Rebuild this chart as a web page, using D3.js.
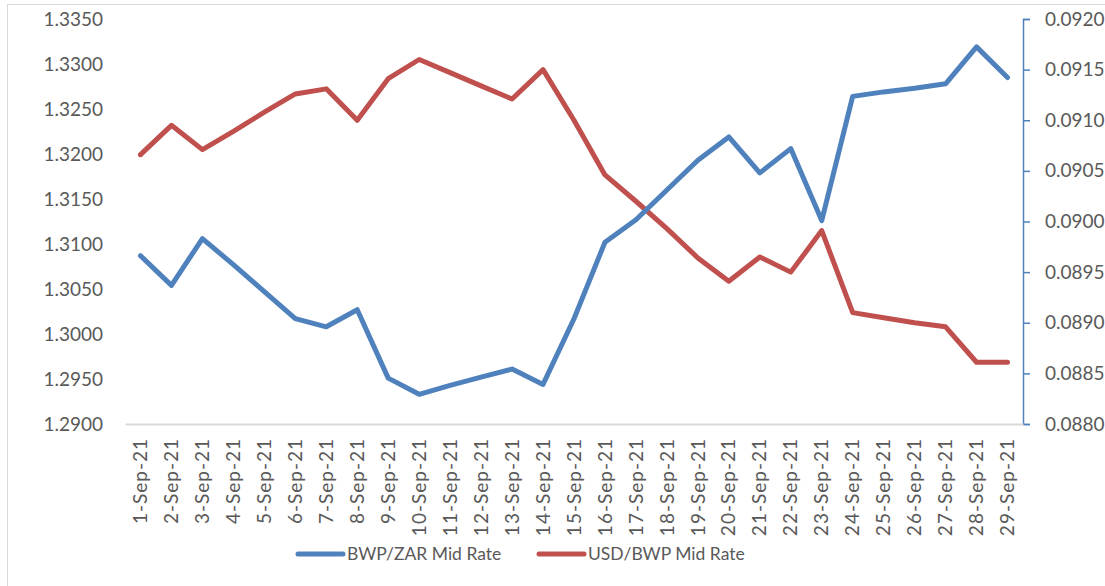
<!DOCTYPE html>
<html lang="en">
<head>
<meta charset="utf-8">
<title>BWP rates</title>
<script src="https://d3js.org/d3.v7.min.js"></script>
<style>
body { margin: 0; background: #fff; }
text { font-family: Lato, "Open Sans", sans-serif; fill: #595959; }
</style>
</head>
<body>
<script>
// dates on the x axis
var dates = ["1-Sep-21","2-Sep-21","3-Sep-21","4-Sep-21","5-Sep-21","6-Sep-21","7-Sep-21","8-Sep-21","9-Sep-21","10-Sep-21",
  "11-Sep-21","12-Sep-21","13-Sep-21","14-Sep-21","15-Sep-21","16-Sep-21","17-Sep-21","18-Sep-21","19-Sep-21","20-Sep-21",
  "21-Sep-21","22-Sep-21","23-Sep-21","24-Sep-21","25-Sep-21","26-Sep-21","27-Sep-21","28-Sep-21","29-Sep-21"];

// BWP/ZAR mid rate (left axis)
var bwpZar = [1.3087,1.3054,1.3106,1.3077,1.3047,1.3017,1.3008,1.3027,1.2951,1.2933,
  1.2943,1.2952,1.2961,1.2944,1.3017,1.3102,1.3127,1.3160,1.3193,1.3219,
  1.3179,1.3206,1.3126,1.3264,1.3269,1.3273,1.3278,1.3319,1.3285];

// USD/BWP mid rate (right axis)
var usdBwp = [0.09066,0.09095,0.09071,0.09089,0.09108,0.09126,0.09131,0.09100,0.09141,0.09160,
  0.09147,0.09134,0.09121,0.09150,0.09100,0.09046,0.09020,0.08993,0.08964,0.08941,
  0.08965,0.08950,0.08991,0.08910,0.08905,0.08900,0.08896,0.08861,0.08861];

var leftTicks = [1.290,1.295,1.300,1.305,1.310,1.315,1.320,1.325,1.330,1.335];
var rightTicks = [0.0880,0.0885,0.0890,0.0895,0.0900,0.0905,0.0910,0.0915,0.0920];

var seriesNames = ["BWP/ZAR Mid Rate", "USD/BWP Mid Rate"];
var blue = "#4f81bd", red = "#c0504d";

var W = 1105, H = 586;
var plot = {left: 125, right: 1023, top: 19, bottom: 424};

var svg = d3.select("body").append("svg")
    .attr("width", W)
    .attr("height", H);

// chart frame
svg.append("rect")
    .attr("x", 7.5).attr("y", 4.5)
    .attr("width", W + 20).attr("height", H + 20)
    .attr("fill", "none")
    .attr("stroke", "#d9d9d9");

var x = d3.scaleBand()
    .domain(dates)
    .range([plot.left, plot.right]);

var yL = d3.scaleLinear()
    .domain([1.29, 1.335])
    .range([plot.bottom, plot.top]);

var yR = d3.scaleLinear()
    .domain([0.088, 0.092])
    .range([plot.bottom, plot.top]);

// left axis (labels only)
var gl = svg.append("g")
    .attr("transform", "translate(" + plot.left + ",0)")
    .call(d3.axisLeft(yL).tickValues(leftTicks).tickFormat(d3.format(".4f")).tickSize(0).tickPadding(22));
gl.select(".domain").remove();
gl.selectAll("text").style("font-size", "19px").attr("fill", "#595959");

// right axis, blue line with outer ticks
var gr = svg.append("g")
    .attr("transform", "translate(" + plot.right + ",0)")
    .call(d3.axisRight(yR).tickValues(rightTicks).tickFormat(d3.format(".4f")).tickSize(7).tickSizeOuter(7).tickPadding(15));
gr.select(".domain").attr("stroke", blue).attr("stroke-width", 1.5);
gr.selectAll("line").attr("stroke", blue).attr("stroke-width", 1.5);
gr.selectAll("text").style("font-size", "19px").attr("fill", "#595959");

// bottom axis
var gx = svg.append("g")
    .attr("transform", "translate(0," + plot.bottom + ")")
    .call(d3.axisBottom(x).tickSize(0).tickSizeOuter(0));
gx.select(".domain").attr("stroke", "#d9d9d9").attr("stroke-width", 2);
gx.selectAll("text")
    .style("font-size", "19px")
    .style("letter-spacing", "1px")
    .attr("fill", "#595959")
    .attr("text-anchor", "end")
    .attr("transform", "rotate(-90)")
    .attr("x", -14)
    .attr("y", 0)
    .attr("dy", "0.35em");

function cx(d, i) { return x(dates[i]) + x.bandwidth() / 2; }

var lineL = d3.line().x(cx).y(function (d) { return yL(d); });
var lineR = d3.line().x(cx).y(function (d) { return yR(d); });

svg.append("path")
    .datum(usdBwp)
    .attr("d", lineR)
    .attr("fill", "none")
    .attr("stroke", red)
    .attr("stroke-width", 5)
    .attr("stroke-linejoin", "round")
    .attr("stroke-linecap", "round");

svg.append("path")
    .datum(bwpZar)
    .attr("d", lineL)
    .attr("fill", "none")
    .attr("stroke", blue)
    .attr("stroke-width", 5)
    .attr("stroke-linejoin", "round")
    .attr("stroke-linecap", "round");

// legend
var legendX = [298, 539];
var legendColors = [blue, red];
var lg = svg.append("g");
seriesNames.forEach(function (name, i) {
    lg.append("line")
        .attr("x1", legendX[i]).attr("x2", legendX[i] + 45)
        .attr("y1", 554).attr("y2", 554)
        .attr("stroke", legendColors[i])
        .attr("stroke-width", 5)
        .attr("stroke-linecap", "round");
    lg.append("text")
        .attr("x", legendX[i] + 49)
        .attr("y", 554)
        .attr("dy", "0.35em")
        .style("font-size", "17.5px")
        .text(name);
});
</script>
</body>
</html>
